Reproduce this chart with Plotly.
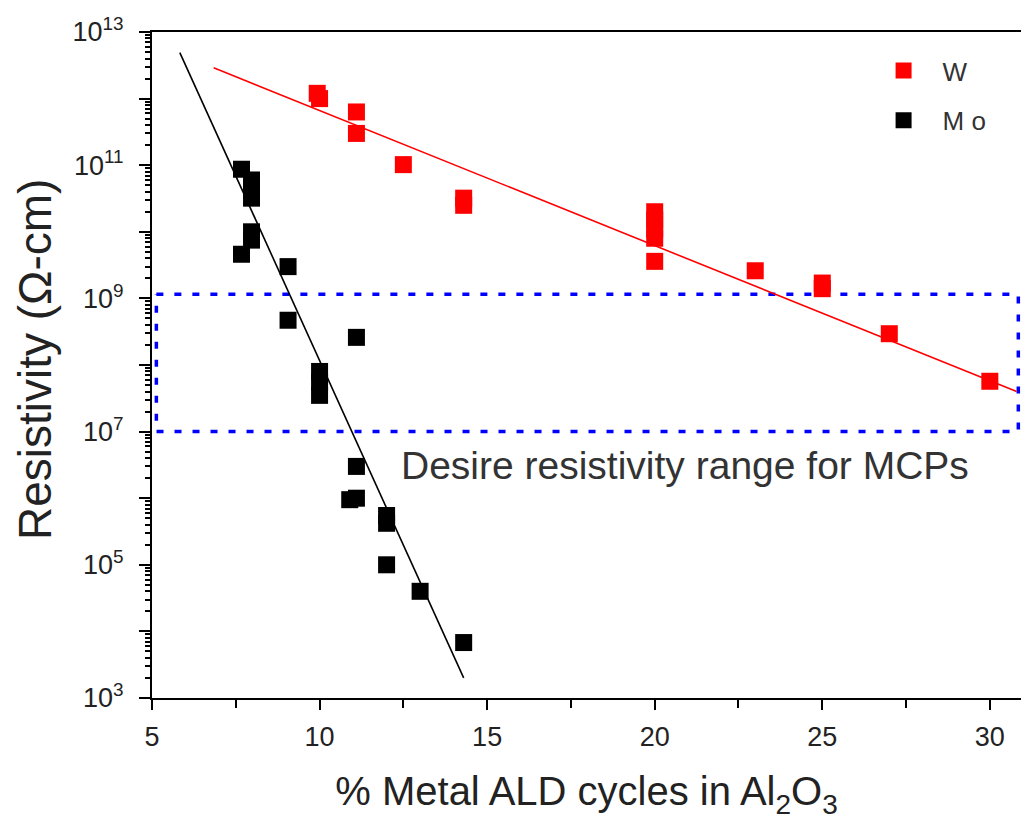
import plotly.graph_objects as go
import math

# ---- data ----
w_x = [9.93, 10.0, 11.1, 11.1, 12.5, 14.3, 14.3, 20, 20, 20, 20, 20, 23, 25, 25, 27, 30]
w_y = [1.2e12, 1.0e12, 6.3e11, 3.0e11, 1.02e11, 3.2e10, 2.5e10, 2.0e10, 1.5e10, 1.1e10,
       8e9, 3.6e9, 2.6e9, 1.7e9, 1.4e9, 2.95e8, 5.7e7]

mo_x = [7.67, 7.97, 7.97, 7.97, 7.97, 7.97, 7.67, 9.06, 9.06, 11.1, 10.0, 10.0, 10.0,
        11.1, 10.9, 11.1, 12.0, 12.0, 12.0, 13.0, 14.3]
mo_y = [8.7e10, 6e10, 4.5e10, 3.2e10, 1e10, 7.5e9, 4.6e9, 3.0e9, 4.7e8, 2.6e8, 8e7, 5.5e7,
        3.5e7, 3.0e6, 9.5e5, 1.0e6, 5.5e5, 4.2e5, 1.0e5, 4.0e4, 6.8e3]

w_fit_x = [6.84, 30.8]
w_fit_y = [2.9e12, 4.0e7]
mo_fit_x = [5.83, 14.3]
mo_fit_y = [4.9e12, 2.0e3]

box_x = [5.13, 30.85, 30.85, 5.13, 5.13]
box_y = [1.15e9, 1.15e9, 1.0e7, 1.0e7, 1.15e9]

y_exponents = list(range(3, 14))
y_tickvals = [10 ** e for e in y_exponents]
y_ticktext = [f"10<sup>{e}</sup>" if e % 2 == 1 else "" for e in y_exponents]
x_tickvals = [5, 10, 15, 20, 25, 30]

note_text = "Desire resistivity range for MCPs"
note_x, note_y = 20.9, 3.1e6
y_title = "Resistivity (Ω-cm)"

FONT = "Liberation Sans, Arial, sans-serif"
TXT = "#222222"

fig = go.Figure()

fig.add_trace(go.Scatter(x=box_x, y=box_y, mode="lines",
                         line=dict(color="#0000FF", width=3.5, dash="7px,11px"),
                         showlegend=False, hoverinfo="skip"))
fig.add_trace(go.Scatter(x=w_fit_x, y=w_fit_y, mode="lines",
                         line=dict(color="#FF0000", width=1.6), showlegend=False))
fig.add_trace(go.Scatter(x=mo_fit_x, y=mo_fit_y, mode="lines",
                         line=dict(color="#000000", width=1.6), showlegend=False))
fig.add_trace(go.Scatter(x=w_x, y=w_y, mode="markers", name="W", legendgroup="W",
                         marker=dict(symbol="square", size=17, color="#FF0000",
                                     line=dict(width=0))))
fig.add_trace(go.Scatter(x=mo_x, y=mo_y, mode="markers", name="M o", legendgroup="Mo",
                         marker=dict(symbol="square", size=17, color="#000000",
                                     line=dict(width=0))))

fig.add_annotation(x=note_x, y=math.log10(note_y), xref="x", yref="y", text=note_text,
                   showarrow=False, font=dict(family=FONT, size=39, color="#333333"))
fig.add_annotation(x=-0.1346, y=0.5075, xref="paper", yref="paper", text=y_title,
                   textangle=-90, showarrow=False, xanchor="center", yanchor="middle",
                   font=dict(family=FONT, size=46, color=TXT))

fig.update_xaxes(range=[5, 30.93], tickvals=x_tickvals, ticks="outside", ticklen=10,
                 tickwidth=2, tickcolor="black", showline=True, linewidth=2, linecolor="black",
                 mirror=True, showgrid=False, zeroline=False, automargin=False,
                 ticklabelstandoff=4,
                 minor=dict(dtick=2.5, ticks="outside", ticklen=8, tickwidth=2, tickcolor="black"),
                 tickfont=dict(family=FONT, size=27, color=TXT),
                 title=dict(text="% Metal ALD cycles in Al<sub>2</sub>O<sub>3</sub>",
                            font=dict(family=FONT, size=40, color=TXT), standoff=26))
fig.update_yaxes(type="log", range=[3, 13], tickvals=y_tickvals, ticktext=y_ticktext,
                 ticks="outside", ticklen=11, tickwidth=2, tickcolor="black",
                 showline=True, linewidth=2, linecolor="black", showgrid=False, zeroline=False,
                 automargin=False, ticklabelstandoff=10,
                 minor=dict(dtick="D1", ticks="outside", ticklen=5, tickwidth=1.5,
                            tickcolor="black"),
                 tickfont=dict(family=FONT, size=27, color=TXT))

fig.update_layout(width=1021, height=824, paper_bgcolor="white", plot_bgcolor="white",
                  margin=dict(l=152, r=0, t=32, b=126),
                  legend=dict(x=0.82, y=0.9775, xanchor="left", yanchor="top",
                              bgcolor="rgba(0,0,0,0)", tracegroupgap=13,
                              traceorder="grouped", itemwidth=68,
                              font=dict(family=FONT, size=26, color="#333333")),
                  showlegend=True)

# remove the default page margin so the figure sits at the window origin
fig.write_html("out.html", config={"displayModeBar": False},
               post_script="document.body.style.margin='0';"
                           "document.body.style.overflow='hidden';")
